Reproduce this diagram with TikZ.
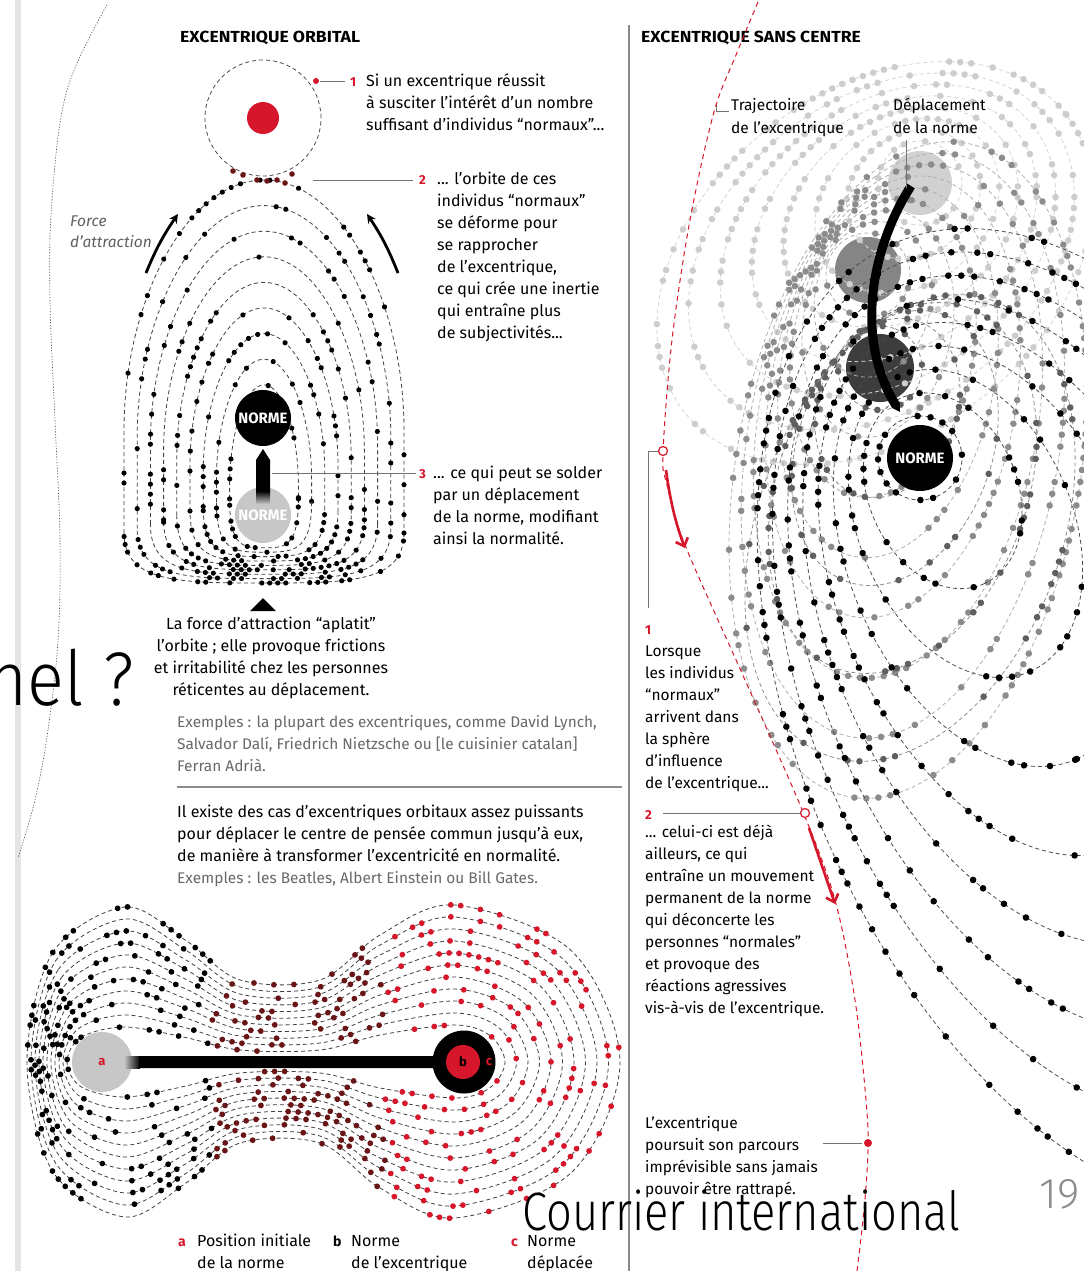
\documentclass[tikz,border=0pt]{standalone}
\usepackage{fontspec}
\usepackage{graphicx}
\setmainfont{Fira Sans}
\newfontfamily\bigfont{Fira Sans Light}
\usetikzlibrary{decorations.markings,arrows.meta}
\definecolor{cred}{RGB}{214,22,42}
\definecolor{dred}{RGB}{105,20,22}
\definecolor{lgdot}{RGB}{205,205,205}
\definecolor{lgline}{RGB}{212,212,212}
\definecolor{mgdot}{RGB}{140,140,140}
\definecolor{mgline}{RGB}{175,175,175}
\definecolor{dgdot}{RGB}{95,95,95}
\definecolor{dgline}{RGB}{140,140,140}
\definecolor{txtgray}{RGB}{105,105,105}
\newcount\rsa \rsa=1234
\newcount\rsb \rsb=5678
\newcount\rsc \rsc=9012
\newcount\rtmp
\newcount\rval
\newcommand\nextrnd{%
  \rtmp=\numexpr\rsa*171\relax \global\rsa=\numexpr\rtmp-(\rtmp/30269)*30269\relax \ifnum\rsa<0 \global\advance\rsa 30269 \fi
  \rtmp=\numexpr\rsb*172\relax \global\rsb=\numexpr\rtmp-(\rtmp/30307)*30307\relax \ifnum\rsb<0 \global\advance\rsb 30307 \fi
  \rtmp=\numexpr\rsc*170\relax \global\rsc=\numexpr\rtmp-(\rtmp/30323)*30323\relax \ifnum\rsc<0 \global\advance\rsc 30323 \fi
  \rtmp=\numexpr\rsa*1000/30269+\rsb*1000/30307+\rsc*1000/30323\relax
  \global\rval=\numexpr\rtmp-(\rtmp/1000)*1000\relax \ifnum\rval<0 \global\advance\rval 1000 \fi}
\newcommand\ltext[1]{\begin{tabular}[t]{@{}l@{}}#1\end{tabular}}
\newcommand\ctext[1]{\begin{tabular}[t]{@{}c@{}}#1\end{tabular}}
% #1 n, #2 Nx, #3 Ny, #4 Dx, #5 Dy, #6 major growth, #7 minor growth, #8 angle, #9 style
\newcommand\orbfamily[9]{%
  \foreach \kk in {0,...,#1}{%
    \pgfmathsetmacro\fs{\kk/#1}%
    \pgfmathsetmacro\ecx{#2+\fs*#4}%
    \pgfmathsetmacro\ecy{#3+\fs*#5}%
    \pgfmathsetmacro\eb{42+\fs*#6}%
    \pgfmathsetmacro\ea{42+\fs*#7}%
    \draw[#9, rotate around={#8:(\ecx,\ecy)}] (\ecx,\ecy) ellipse [x radius=\eb pt, y radius=\ea pt];
  }}
\tikzset{
  orb/.style={draw=#1, dash pattern=on 4pt off 3pt, line width=0.8pt},
  rd/.style n args={4}{postaction={decorate,decoration={markings,
      mark=between positions 0 and 1 step #1 with {\nextrnd\ifnum\rval<#2 \fill[#3] (0,0) circle (#4);\fi}}}},
  dbd/.style={postaction={decorate,decoration={markings,
      mark=between positions 0 and 1 step 10pt with {\nextrnd\ifnum\rval<330
        \pgfgettransformentries{\ta}{\tb}{\tc}{\td}{\tx}{\ty}\pgfmathsetmacro\xx{\tx}%
        \ifdim\xx pt<212pt \def\dc{black}\else\ifdim\xx pt<385pt \def\dc{dred}\else\def\dc{cred}\fi\fi
        \fill[\dc] (0,0) circle (2.9pt);\fi}}}},
  body/.style={inner sep=0pt, anchor=base west, font=\fontsize{16}{22}\selectfont},
  rbody/.style={inner sep=0pt, anchor=base west, font=\fontsize{15.5}{22}\selectfont},
  num/.style={inner sep=0pt, anchor=base west, font=\bfseries\fontsize{13}{16}\selectfont, text=cred},
  title/.style={inner sep=0pt, anchor=base west, font=\bfseries\fontsize{16}{18}\selectfont},
  normtxt/.style={font=\bfseries\fontsize{15}{16}\selectfont, text=white, inner sep=0pt},
  leader/.style={draw=black!55, line width=0.9pt},
}
\begin{document}
\begin{tikzpicture}[x=1pt,y=-1pt]
\useasboundingbox (0,0) rectangle (1084,1271);
\fill[white] (0,0) rectangle (1084,1271);
% page edge and dotted curve
\fill[black!10] (15,0) rectangle (21,1271);
\draw[black!70, line width=0.6pt, dash pattern=on 1.2pt off 1.6pt] plot[smooth, tension=0.6] coordinates {(107,5) (67,90) (52,200) (50,300) (55,420) (60,540) (58,640) (48,730) (35,800) (18,858)};
% column separator
\draw[black!45, line width=1.4pt] (629,25) -- (629,1271);
% ================= LEFT: excentrique orbital =================
\node[title] (tl) at (180,43) {\scalebox{1.1}[1]{EXCENTRIQUE ORBITAL}};
\draw[orb=black!70] (263,118) circle (58pt);
\fill[cred] (263,118) circle (16pt);
\foreach \kk in {0,...,8}{%
  \pgfmathsetmacro\oT{180+25.6*\kk}%
  \pgfmathsetmacro\oB{583-4.4*\kk}%
  \pgfmathsetmacro\ow{140-13.2*\kk}%
  \pgfmathsetmacro\oh{\oB-\oT}%
  \pgfmathsetmacro\oM{\oT+0.62*\oh}%
  \pgfmathsetmacro\oC{\oB-min(50,0.3*\oh)}%
  \pgfmathsetmacro\xl{264-\ow}\pgfmathsetmacro\xr{264+\ow}%
  \pgfmathsetmacro\ya{\oT+0.3*\oh}%
  \pgfmathsetmacro\xla{264-0.55*\ow}\pgfmathsetmacro\xra{264+0.55*\ow}%
  \pgfmathsetmacro\xlb{264-0.6*\ow}\pgfmathsetmacro\xrb{264+0.6*\ow}%
  \draw[orb=black!75, rd={10pt}{310}{black}{2.6pt}] (\xl,\oC) -- (\xl,\oM) .. controls (\xl,\ya) and (\xla,\oT) .. (264,\oT) .. controls (\xra,\oT) and (\xr,\ya) .. (\xr,\oM) -- (\xr,\oC);
  \draw[orb=black!75, rd={8pt}{560}{black}{2.6pt}] (\xr,\oC) .. controls (\xr,\oB) and (\xrb,\oB) .. (264,\oB) .. controls (\xlb,\oB) and (\xl,\oB) .. (\xl,\oC);
}
\foreach \p in {(233,171),(243,175),(257,180),(267,181),(277,180),(285,183),(292,174)} \fill[dred] \p circle (2.8pt);
% norm circles and arrow
\node[circle, fill=black!22, minimum size=56pt, inner sep=0pt] (n0) at (263,515) {};
\node[normtxt] at (n0) {NORME};
\fill[black] (256,460) -- (263,449) -- (270,460) -- (270,492) -- (256,492) -- cycle;
\shade[top color=black, bottom color=black!22] (256,491) rectangle (270,504);
\node[circle, fill=black, minimum size=56pt, inner sep=0pt] (n1) at (263,418) {};
\node[normtxt] at (n1) {NORME};
% labels
\fill[cred] (316,81) circle (3pt);
\draw[leader] (320,81) -- (345,81);
\node[num] (l1) at (350,87) {1};
\node[body] (b1) at (366,87) {\ltext{Si un excentrique réussit\\à susciter l’intérêt d’un nombre\\suffisant d’individus “normaux”...}};
\draw[leader] (313,180) -- (413,180);
\node[num] (l2) at (419,184) {2};
\node[body] (b2) at (437,184) {\ltext{... l’orbite de ces\\individus “normaux”\\se déforme pour\\se rapprocher\\de l’excentrique,\\ce qui crée une inertie\\qui entraîne plus\\de subjectivités...}};
\draw[leader] (272,473) -- (416,473);
\node[num] (l3) at (419,478) {3};
\node[body] (b3) at (433,478) {\ltext{... ce qui peut se solder\\par un déplacement\\de la norme, modifiant\\ainsi la normalité.}};
\node[body, font=\itshape\fontsize{15.5}{21}\selectfont, text=black!62] (force) at (70,226) {\ltext{Force\\d’attraction}};
\draw[line width=2.8pt, -{Stealth[length=9pt,width=9pt]}] (146,273) to[bend left=6] (178,214);
\draw[line width=2.8pt, -{Stealth[length=9pt,width=9pt]}] (398,273) to[bend right=6] (367,214);
\fill[black] (263,598) -- (276,611) -- (250,611) -- cycle;
\node[body, anchor=base] (bc) at (271,629) {\ctext{La force d’attraction “aplatit”\\l’orbite ; elle provoque frictions\\et irritabilité chez les personnes\\réticentes au déplacement.}};
\node[body, text=txtgray, font=\fontsize{15.4}{22}\selectfont] (ex1) at (177,727) {\ltext{Exemples : la plupart des excentriques, comme David Lynch,\\Salvador Dalí, Friedrich Nietzsche ou [le cuisinier catalan]\\Ferran Adrià.}};
\draw[black!45, line width=1.3pt] (177,787) -- (622,787);
\node[body] (ex2) at (177,817) {\ltext{Il existe des cas d’excentriques orbitaux assez puissants\\pour déplacer le centre de pensée commun jusqu’à eux,\\de manière à transformer l’excentricité en normalité.\\\textcolor{txtgray}{\fontsize{15.4}{22}\selectfont Exemples : les Beatles, Albert Einstein ou Bill Gates.}}};
% ================= dumbbell =================
\foreach \j in {0,...,10}{%
  \pgfmathsetmacro\dL{27+4*\j}%
  \pgfmathsetmacro\dTl{907+12*\j}%
  \pgfmathsetmacro\dBl{1217-12*\j}%
  \pgfmathsetmacro\dNt{980+7*\j}%
  \pgfmathsetmacro\dNb{1143-7*\j}%
  \pgfmathsetmacro\dR{620-11.5*\j}%
  \pgfmathsetmacro\dTr{905+12*\j}%
  \pgfmathsetmacro\dBr{1218-12*\j}%
  \pgfmathsetmacro\pax{115-0.707*(115-\dL)}%
  \pgfmathsetmacro\pay{1062-0.707*(1062-\dTl)}%
  \pgfmathsetmacro\pby{1062+0.707*(\dBl-1062)}%
  \pgfmathsetmacro\pcy{\dTl+0.45*(\dNt-\dTl)}%
  \pgfmathsetmacro\pdy{\dBl-0.45*(\dBl-\dNb)}%
  \pgfmathsetmacro\pey{\dTr+0.4*(\dNt-\dTr)}%
  \pgfmathsetmacro\pfy{\dBr-0.4*(\dBr-\dNb)}%
  \pgfmathsetmacro\pgx{455+0.707*(\dR-455)}%
  \pgfmathsetmacro\pgy{1062-0.707*(1062-\dTr)}%
  \pgfmathsetmacro\phy{1062+0.707*(\dBr-1062)}%
  \draw[orb=black!75, dbd] plot[smooth cycle, tension=0.55] coordinates {(\dL,1062) (\pax,\pay) (125,\dTl) (185,\pcy) (240,\dNt) (320,\dNt) (380,\pey) (455,\dTr) (\pgx,\pgy) (\dR,1062) (\pgx,\phy) (455,\dBr) (380,\pfy) (320,\dNb) (240,\dNb) (185,\pdy) (125,\dBl) (\pax,\pby)};
}
\node[circle, fill=black!22, minimum size=60pt, inner sep=0pt] (ca) at (102,1062) {};
\node[font=\bfseries\fontsize{13}{16}\selectfont, text=cred, inner sep=0pt] at (ca) {a};
\shade[left color=black!22, right color=black] (124,1056) rectangle (140,1068);
\fill[black] (139,1056) -- (437,1056) -- (446,1062) -- (437,1068) -- (139,1068) -- cycle;
\node[circle, fill=black, minimum size=63pt, inner sep=0pt] (cb) at (464,1062) {};
\node[circle, fill=cred, minimum size=34pt, inner sep=0pt] (cbi) at (463,1062) {};
\node[font=\bfseries\fontsize{13}{16}\selectfont, inner sep=0pt] at (cbi) {b};
\node[font=\bfseries\fontsize{13}{16}\selectfont, text=cred, inner sep=0pt] (cc) at (489,1062) {c};
% legend
\node[num, font=\bfseries\fontsize{14}{16}\selectfont] (la) at (178,1246) {a};
\node[body] (lat) at (197,1246) {\ltext{Position initiale\\de la norme}};
\node[num, text=black, font=\bfseries\fontsize{14}{16}\selectfont] (lb) at (333,1246) {b};
\node[body] (lbt) at (351,1246) {\ltext{Norme\\de l’excentrique}};
\node[num, font=\bfseries\fontsize{14}{16}\selectfont] (lc) at (511,1246) {c};
\node[body] (lct) at (527,1246) {\ltext{Norme\\déplacée}};
% ================= RIGHT: excentrique sans centre =================
\node[title] (tr) at (641,43) {\scalebox{1.1}[1]{EXCENTRIQUE SANS CENTRE}};
\begin{scope}
\clip (633,48) -- (1084,48) -- (1084,1271) -- (770,1271) -- (770,1040) -- (633,1040) -- cycle;
\fill[black!18] (920,183) circle (32pt);
\fill[black!48] (868,270) circle (33pt);
\fill[black!76] (880,368) circle (34pt);
\orbfamily{7}{920}{183}{-45}{80}{200}{130}{38}{orb=lgline, rd={11pt}{600}{lgdot}{3.3pt}}
\orbfamily{8}{868}{275}{40}{195}{290}{130}{80}{orb=mgline, rd={12pt}{470}{mgdot}{3.3pt}}
\orbfamily{4}{880}{368}{30}{160}{200}{110}{70}{orb=dgline, rd={12pt}{430}{dgdot}{3.3pt}}
\orbfamily{8}{920}{458}{182}{262}{478}{258}{-66.4}{orb=black!70, rd={13pt}{420}{black}{3.3pt}}
\end{scope}
\draw[line width=9pt, -{Triangle[length=8pt,width=9pt]}] (911,186) .. controls (870,250) and (855,340) .. (900,412);
\node[circle, fill=black, minimum size=66pt, inner sep=0pt] (nr) at (920,458) {};
\node[normtxt] at (nr) {NORME};
% labels top
\draw[leader, line width=0.7pt] (716,104) -- (716,111) -- (729,111);
\node[rbody] (traj) at (731,111) {\ltext{Trajectoire\\de l’excentrique}};
\node[rbody] (depl) at (893,111) {\ltext{Déplacement\\de la norme}};
\draw[leader, line width=0.7pt] (906,140) -- (906,188);
% trajectory
\draw[cred, line width=1pt, dash pattern=on 5pt off 4pt] plot[smooth, tension=0.55] coordinates {(758,2) (736,55) (714,112) (690,220) (672,340) (663,453) (667,485) (685,545) (745,680) (803,812) (835,900) (855,1000) (866,1100) (868,1150) (864,1210) (857,1271)};
\draw[cred, line width=2.6pt, -{Straight Barb[length=7pt,width=13pt]}] (666,470) .. controls (670,500) and (676,525) .. (685,548);
\draw[cred, line width=2.6pt, -{Straight Barb[length=7pt,width=13pt]}] (809,828) -- (835,904);
\draw[leader] (658,451) -- (648,451) -- (648,608);
\draw[cred, fill=white, line width=1.2pt] (663,451) circle (4.5pt);
\draw[leader] (663,813) -- (800,813);
\draw[cred, fill=white, line width=1.2pt] (805,813) circle (4.5pt);
\draw[leader] (823,1143) -- (862,1143);
\fill[cred] (868,1143) circle (4pt);
\node[num] (r1) at (645,634) {1};
\node[rbody] (rb1) at (645,656) {\ltext{Lorsque\\les individus\\“normaux”\\arrivent dans\\la sphère\\d’influence\\de l’excentrique...}};
\node[num] (r2) at (645,819) {2};
\node[rbody] (rb2) at (645,837) {\ltext{... celui-ci est déjà\\ailleurs, ce qui\\entraîne un mouvement\\permanent de la norme\\qui déconcerte les\\personnes “normales”\\et provoque des\\réactions agressives\\vis-à-vis de l’excentrique.}};
\node[rbody] (rb3) at (645,1128) {\ltext{L’excentrique\\poursuit son parcours\\imprévisible sans jamais\\pouvoir être rattrapé.}};
% overlay slide texts
\node[anchor=base east, inner sep=0pt] (nel) at (134,705) {\resizebox{146pt}{\height}{\bigfont\fontsize{76}{76}\selectfont nel ?}};
\node[anchor=base west, inner sep=0pt] (ci) at (522,1230) {\resizebox{438pt}{\height}{\bigfont\fontsize{54}{54}\selectfont Courrier international}};
\node[anchor=base east, inner sep=0pt, text=black!45] (pg) at (1080,1208) {\bigfont\fontsize{43}{43}\selectfont 19};
\end{tikzpicture}
\end{document}
